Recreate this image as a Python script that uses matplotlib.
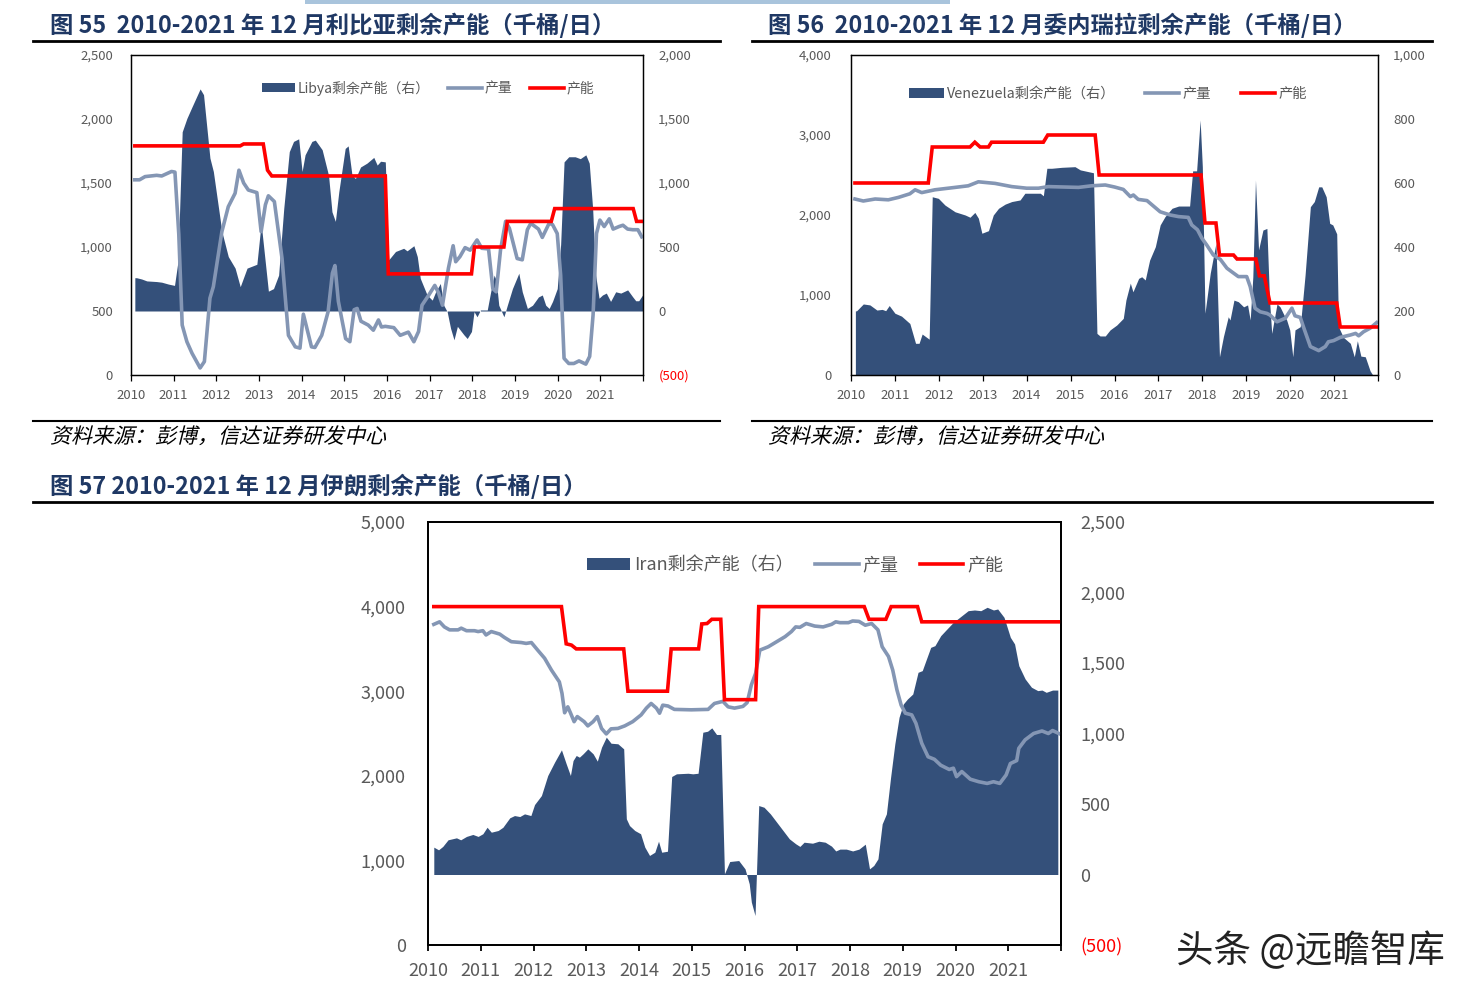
import matplotlib
matplotlib.use("Agg")
import matplotlib.pyplot as plt
from matplotlib.lines import Line2D
from matplotlib.patches import Patch, Rectangle, PathPatch
from matplotlib.textpath import TextPath
from matplotlib.font_manager import FontProperties
from matplotlib.transforms import Affine2D
from matplotlib.ticker import FuncFormatter

plt.rcParams['font.family'] = ['Noto Sans CJK SC', 'DejaVu Sans']

# ---------------- data (decimal year, value) ----------------
years = [2010, 2011, 2012, 2013, 2014, 2015, 2016, 2017, 2018, 2019, 2020, 2021]

# Libya
libya_cap_x = [2010.09, 2012.56, 2012.64, 2013.1, 2013.2, 2013.3, 2015.96, 2016.03, 2017.98, 2018.05,
               2018.74, 2018.82, 2019.85, 2019.93, 2021.77, 2021.85, 2021.99]
libya_cap = [1790, 1790, 1805, 1805, 1600, 1555, 1555, 790, 790, 1000,
             1000, 1200, 1200, 1300, 1300, 1200, 1200]
libya_prod_x = [2010.09, 2010.2, 2010.33, 2010.6, 2010.72, 2010.95, 2011.03, 2011.12, 2011.2, 2011.31,
                2011.43, 2011.62, 2011.72, 2011.85, 2011.93, 2012.13, 2012.28, 2012.44, 2012.53, 2012.64,
                2012.75, 2012.95, 2013.05, 2013.15, 2013.22, 2013.36, 2013.54, 2013.69, 2013.85, 2013.96,
                2014.04, 2014.23, 2014.31, 2014.47, 2014.62, 2014.72, 2014.78, 2014.86, 2015.03, 2015.13,
                2015.23, 2015.3, 2015.39, 2015.56, 2015.68, 2015.8, 2015.87, 2015.96, 2016.16, 2016.31,
                2016.5, 2016.63, 2016.74, 2016.82, 2016.98, 2017.12, 2017.21, 2017.3, 2017.44, 2017.55,
                2017.61, 2017.71, 2017.83, 2017.95, 2018.11, 2018.22, 2018.38, 2018.48, 2018.56, 2018.66,
                2018.78, 2018.87, 2019.05, 2019.17, 2019.29, 2019.37, 2019.55, 2019.64, 2019.8, 2019.88,
                2019.99, 2020.07, 2020.15, 2020.26, 2020.38, 2020.5, 2020.66, 2020.75, 2020.83, 2020.91,
                2020.99, 2021.09, 2021.21, 2021.3, 2021.44, 2021.53, 2021.64, 2021.76, 2021.88, 2021.97]
libya_prod = [1525, 1525, 1550, 1560, 1555, 1590, 1585, 1100, 390, 260,
              170, 55, 105, 600, 690, 1120, 1315, 1420, 1600, 1500,
              1445, 1425, 1120, 1330, 1400, 1355, 910, 310, 220, 210,
              475, 220, 215, 310, 495, 795, 855, 575, 285, 260,
              510, 520, 420, 390, 350, 430, 375, 380, 370, 310,
              335, 260, 340, 545, 625, 700, 640, 545, 835, 1010,
              885, 925, 995, 975, 1055, 990, 985, 675, 650, 975,
              1200, 1145, 910, 900, 1135, 1185, 1140, 1075, 1185, 1175,
              1105, 780, 130, 90, 90, 110, 85, 145, 470, 1105,
              1210, 1160, 1220, 1140, 1160, 1170, 1140, 1135, 1135, 1080]
libya_spare_x = [2010.09, 2010.13, 2010.25, 2010.37, 2010.6, 2010.72, 2010.88, 2011.02, 2011.1, 2011.2,
                 2011.31, 2011.43, 2011.62, 2011.7, 2011.85, 2011.93, 2012.13, 2012.28, 2012.44, 2012.56,
                 2012.72, 2012.95, 2013.05, 2013.22, 2013.34, 2013.46, 2013.58, 2013.71, 2013.81, 2013.93,
                 2014.01, 2014.08, 2014.24, 2014.32, 2014.48, 2014.63, 2014.71, 2014.79, 2014.87, 2015.02,
                 2015.09, 2015.18, 2015.26, 2015.38, 2015.53, 2015.69, 2015.77, 2015.85, 2015.96, 2016.04,
                 2016.2, 2016.39, 2016.47, 2016.63, 2016.71, 2016.78, 2016.94, 2017.06, 2017.14, 2017.25,
                 2017.33, 2017.41, 2017.49, 2017.57, 2017.65, 2017.8, 2017.88, 2017.98, 2018.04, 2018.11,
                 2018.19, 2018.35, 2018.43, 2018.51, 2018.56, 2018.62, 2018.74, 2018.82, 2018.94, 2019.09,
                 2019.17, 2019.29, 2019.41, 2019.55, 2019.64, 2019.72, 2019.8, 2019.88, 2019.99, 2020.07,
                 2020.15, 2020.26, 2020.41, 2020.53, 2020.66, 2020.74, 2020.82, 2020.89, 2020.97, 2021.05,
                 2021.14, 2021.24, 2021.36, 2021.48, 2021.64, 2021.76, 2021.83, 2021.9, 2021.99]
libya_spare = [260, 260, 250, 235, 230, 225, 210, 200, 385, 1400,
               1505, 1595, 1735, 1690, 1195, 1090, 620, 425, 335, 190,
               335, 365, 685, 155, 175, 280, 800, 1245, 1325, 1345,
               1090, 1220, 1325, 1335, 1260, 1060, 775, 700, 930, 1270,
               1290, 1060, 1035, 1125, 1155, 1200, 1140, 1170, 1165, 400,
               465, 490, 470, 510, 425, 255, 125, 85, 150, 215,
               45, -5, -135, -225, -120, -185, -215, -160, -5, -45,
               8, 8, 150, 280, 240, 45, -45, 45, 175, 295,
               150, 20, 45, 110, 125, 45, 20, 75, 175, 520,
               1165, 1205, 1205, 1190, 1220, 1155, 800, 280, 100, 125,
               140, 75, 150, 140, 165, 110, 80, 80, 125]

# Venezuela
ven_cap_x = [2010.09, 2011.76, 2011.85, 2012.71, 2012.82, 2012.94, 2013.13, 2013.2, 2014.38, 2014.48,
             2015.56, 2015.65, 2017.97, 2018.06, 2018.31, 2018.39, 2018.71, 2018.79, 2019.22, 2019.3,
             2019.41, 2019.54, 2021.06, 2021.14, 2021.99]
ven_cap = [2400, 2400, 2850, 2850, 2910, 2850, 2850, 2910, 2910, 3000,
           3000, 2500, 2500, 1900, 1900, 1500, 1500, 1450, 1450, 1240,
           1240, 900, 900, 600, 600]
ven_prod_x = [2010.09, 2010.28, 2010.55, 2010.85, 2011.08, 2011.34, 2011.46, 2011.61, 2011.91, 2012.37,
              2012.67, 2012.9, 2013.28, 2013.66, 2014.0, 2014.27, 2014.49, 2015.18, 2015.48, 2015.79,
              2016.0, 2016.2, 2016.36, 2016.43, 2016.54, 2016.74, 2017.04, 2017.27, 2017.46, 2017.68,
              2017.76, 2017.89, 2017.99, 2018.1, 2018.25, 2018.41, 2018.56, 2018.67, 2018.82, 2019.01,
              2019.09, 2019.2, 2019.32, 2019.47, 2019.54, 2019.7, 2019.89, 2020.04, 2020.11, 2020.23,
              2020.3, 2020.46, 2020.65, 2020.8, 2020.87, 2020.99, 2021.14, 2021.37, 2021.49, 2021.56,
              2021.67, 2021.82, 2021.97]
ven_prod = [2200, 2175, 2200, 2190, 2220, 2265, 2315, 2280, 2315, 2345,
            2365, 2415, 2395, 2355, 2335, 2335, 2355, 2345, 2365, 2375,
            2350, 2320, 2230, 2250, 2195, 2180, 2040, 2000, 1980, 1970,
            1875, 1815, 1710, 1625, 1500, 1445, 1335, 1290, 1230, 1230,
            1105, 835, 790, 770, 750, 665, 710, 835, 740, 720,
            605, 355, 305, 355, 415, 430, 470, 500, 520, 490,
            540, 585, 655]
ven_spare_x = [2010.1, 2010.13, 2010.28, 2010.43, 2010.59, 2010.71, 2010.79, 2010.87, 2011.0, 2011.15,
               2011.34, 2011.47, 2011.55, 2011.62, 2011.78, 2011.85, 2011.99, 2012.14, 2012.37, 2012.6,
               2012.71, 2012.82, 2012.9, 2012.98, 2013.13, 2013.24, 2013.36, 2013.51, 2013.66, 2013.85,
               2013.96, 2014.31, 2014.38, 2014.46, 2014.57, 2014.8, 2015.1, 2015.22, 2015.52, 2015.6,
               2015.67, 2015.79, 2015.9, 2016.05, 2016.2, 2016.26, 2016.36, 2016.42, 2016.55, 2016.62,
               2016.7, 2016.8, 2016.93, 2017.04, 2017.15, 2017.31, 2017.46, 2017.71, 2017.78, 2017.87,
               2017.95, 2018.0, 2018.06, 2018.18, 2018.31, 2018.39, 2018.48, 2018.59, 2018.63, 2018.72,
               2018.82, 2018.94, 2019.03, 2019.09, 2019.15, 2019.21, 2019.28, 2019.38, 2019.47, 2019.53,
               2019.58, 2019.7, 2019.77, 2019.84, 2019.92, 2019.99, 2020.06, 2020.11, 2020.23, 2020.34,
               2020.46, 2020.55, 2020.65, 2020.72, 2020.82, 2020.9, 2020.97, 2021.06, 2021.1, 2021.21,
               2021.37, 2021.46, 2021.53, 2021.61, 2021.71, 2021.82, 2021.88, 2021.97]
ven_spare = [200, 201, 222, 219, 203, 205, 201, 217, 193, 184,
             161, 99, 99, 128, 112, 557, 552, 531, 510, 500,
             493, 508, 490, 443, 451, 500, 521, 534, 542, 547,
             568, 568, 560, 646, 646, 649, 651, 641, 632, 130,
             122, 122, 141, 156, 177, 234, 287, 260, 302, 307,
             297, 359, 401, 469, 495, 521, 528, 528, 638, 638,
             797, 651, 193, 318, 412, 57, 120, 182, 172, 234,
             229, 213, 219, 172, 307, 609, 391, 453, 458, 234,
             130, 222, 213, 193, 172, 141, 57, 141, 151, 313,
             526, 542, 588, 588, 557, 474, 469, 441, 151, 118,
             99, 57, 107, 59, 57, 13, 0, 0]

# Iran
iran_cap_x = [2010.11, 2012.53, 2012.62, 2012.72, 2012.81, 2013.71, 2013.79, 2014.54, 2014.61, 2015.13,
              2015.19, 2015.29, 2015.38, 2015.55, 2015.62, 2016.21, 2016.27, 2018.27, 2018.36, 2018.68,
              2018.78, 2019.28, 2019.36, 2021.99]
iran_cap = [4000, 4000, 3560, 3545, 3500, 3500, 3000, 3000, 3500, 3500,
            3795, 3800, 3850, 3850, 2900, 2900, 4000, 4000, 3850, 3850,
            4000, 4000, 3820, 3820]
iran_prod_x = [2010.11, 2010.22, 2010.31, 2010.41, 2010.57, 2010.63, 2010.73, 2010.88, 2010.95, 2011.04,
               2011.1, 2011.2, 2011.36, 2011.45, 2011.58, 2011.77, 2011.86, 2011.96, 2012.08, 2012.21,
               2012.34, 2012.49, 2012.54, 2012.59, 2012.65, 2012.7, 2012.77, 2012.83, 2012.96, 2013.03,
               2013.13, 2013.21, 2013.29, 2013.38, 2013.47, 2013.6, 2013.73, 2013.88, 2014.04, 2014.14,
               2014.23, 2014.33, 2014.39, 2014.45, 2014.55, 2014.67, 2014.99, 2015.31, 2015.43, 2015.59,
               2015.69, 2015.81, 2015.97, 2016.05, 2016.13, 2016.21, 2016.29, 2016.45, 2016.61, 2016.77,
               2016.89, 2016.97, 2017.05, 2017.17, 2017.33, 2017.49, 2017.65, 2017.73, 2017.81, 2017.97,
               2018.05, 2018.17, 2018.29, 2018.41, 2018.53, 2018.61, 2018.73, 2018.81, 2018.89, 2018.97,
               2019.05, 2019.17, 2019.25, 2019.36, 2019.48, 2019.6, 2019.72, 2019.88, 2019.96, 2020.02,
               2020.12, 2020.28, 2020.44, 2020.6, 2020.72, 2020.84, 2020.96, 2021.04, 2021.16, 2021.2,
               2021.32, 2021.48, 2021.64, 2021.76, 2021.84, 2021.96]
iran_prod = [3790, 3820, 3760, 3725, 3725, 3745, 3715, 3715, 3705, 3715,
             3665, 3705, 3675, 3635, 3585, 3575, 3565, 3575, 3485, 3390,
             3250, 3110, 2975, 2745, 2815, 2745, 2640, 2700, 2640, 2590,
             2640, 2700, 2560, 2495, 2555, 2560, 2590, 2640, 2720, 2800,
             2855, 2800, 2740, 2835, 2825, 2785, 2780, 2785, 2855, 2880,
             2815, 2800, 2820, 2865, 3075, 3210, 3485, 3525, 3585, 3645,
             3705, 3760, 3755, 3800, 3770, 3760, 3790, 3820, 3810, 3810,
             3830, 3825, 3780, 3800, 3725, 3525, 3410, 3250, 3015, 2835,
             2740, 2720, 2620, 2385, 2225, 2195, 2125, 2075, 2090, 1990,
             2050, 1960, 1930, 1910, 1930, 1910, 2010, 2145, 2180, 2325,
             2425, 2500, 2530, 2500, 2535, 2500]
iran_spare_x = [2010.11, 2010.2, 2010.28, 2010.38, 2010.54, 2010.62, 2010.73, 2010.85, 2010.95, 2011.04,
                2011.12, 2011.2, 2011.33, 2011.42, 2011.55, 2011.64, 2011.74, 2011.83, 2011.95, 2012.02,
                2012.15, 2012.27, 2012.4, 2012.53, 2012.62, 2012.7, 2012.75, 2012.81, 2012.87, 2012.94,
                2013.03, 2013.13, 2013.21, 2013.29, 2013.38, 2013.47, 2013.6, 2013.71, 2013.76, 2013.82,
                2013.92, 2014.03, 2014.11, 2014.2, 2014.3, 2014.37, 2014.43, 2014.54, 2014.62, 2014.71,
                2014.93, 2015.02, 2015.12, 2015.21, 2015.3, 2015.38, 2015.47, 2015.55, 2015.62, 2015.72,
                2015.89, 2016.01, 2016.09, 2016.13, 2016.2, 2016.27, 2016.37, 2016.49, 2016.61, 2016.73,
                2016.85, 2016.97, 2017.05, 2017.13, 2017.29, 2017.41, 2017.53, 2017.65, 2017.73, 2017.81,
                2017.93, 2018.05, 2018.17, 2018.29, 2018.37, 2018.45, 2018.53, 2018.61, 2018.69, 2018.77,
                2018.85, 2018.93, 2019.01, 2019.09, 2019.19, 2019.29, 2019.37, 2019.45, 2019.53, 2019.61,
                2019.72, 2019.84, 2019.96, 2020.08, 2020.24, 2020.36, 2020.48, 2020.6, 2020.72, 2020.8,
                2020.92, 2021.04, 2021.12, 2021.2, 2021.32, 2021.44, 2021.56, 2021.64, 2021.72, 2021.84,
                2021.94]
iran_spare = [194, 175, 199, 246, 260, 246, 270, 284, 270, 289,
              335, 300, 312, 335, 402, 418, 411, 430, 418, 496,
              560, 702, 797, 884, 785, 702, 808, 844, 832, 856,
              891, 856, 804, 903, 974, 931, 927, 891, 395, 347,
              312, 289, 194, 135, 158, 236, 158, 165, 695, 714,
              718, 714, 718, 1009, 1016, 1040, 993, 993, 5, 92,
              99, 40, -66, -196, -291, 489, 477, 430, 371, 312,
              253, 218, 199, 229, 222, 236, 229, 201, 167, 180,
              180, 167, 180, 215, 40, 64, 111, 359, 430, 690,
              926, 1115, 1209, 1245, 1280, 1434, 1446, 1529, 1611, 1623,
              1694, 1742, 1789, 1824, 1871, 1876, 1871, 1895, 1876, 1883,
              1824, 1682, 1635, 1481, 1387, 1328, 1304, 1308, 1292, 1308,
              1308]

# ---------------- styling ----------------
NAVY = '#34507A'
GRAY = '#8496B4'
RED = '#FF0000'
TXT = '#595959'
TITLE = '#1F3864'

W, H = 1473, 1000
fig = plt.figure(figsize=(W / 100, H / 100), dpi=100)


def fx(px):
    return px / W


def fy(py):
    return 1 - py / H


def thousands(v, pos=None):
    if v < 0:
        return '({:,.0f})'.format(-v)
    return '{:,.0f}'.format(v)


def draw_panel(rect, cap_x, cap, prod_x, prod, spare_x, spare, left_lim, left_step,
               right_lim, right_step, name, fs, lw_spine, lpad, rpad, xpad, leg_xy, leg_fs, colsp):
    ax = fig.add_axes(rect)
    ax2 = ax.twinx()
    # area on the right axis, lines on the left axis drawn on top
    ax2.fill_between(spare_x, spare, 0, color=NAVY, linewidth=0)
    ax.plot(prod_x, prod, color=GRAY, linewidth=2.6, solid_joinstyle='round')
    ax.plot(cap_x, cap, color=RED, linewidth=2.6, solid_joinstyle='miter')
    ax.set_zorder(ax2.get_zorder() + 1)
    ax.patch.set_visible(False)

    ax.set_xlim(2010, 2022)
    ax.set_ylim(*left_lim)
    ax2.set_ylim(*right_lim)
    ax.set_yticks(range(left_lim[0], left_lim[1] + 1, left_step))
    ax2.set_yticks(range(right_lim[0], right_lim[1] + 1, right_step))
    ax.yaxis.set_major_formatter(FuncFormatter(thousands))
    ax2.yaxis.set_major_formatter(FuncFormatter(thousands))
    ax.set_xticks(list(years) + [2022])
    ax.set_xticklabels([str(y) for y in years] + [''])

    ax.tick_params(axis='y', length=0, pad=lpad, labelsize=fs, labelcolor=TXT)
    ax2.tick_params(axis='y', length=0, pad=rpad, labelsize=fs, labelcolor=TXT)
    ax.tick_params(axis='x', direction='out', length=4, width=lw_spine, pad=xpad,
                   labelsize=fs, labelcolor=TXT)
    for lab in ax2.get_yticklabels():
        if lab.get_text().startswith('('):
            lab.set_color(RED)
    for a in (ax, ax2):
        for s in a.spines.values():
            s.set_color('#000000')
            s.set_linewidth(lw_spine)

    handles = [Patch(facecolor=NAVY, edgecolor='none'),
               Line2D([0], [0], color=GRAY, linewidth=2.6),
               Line2D([0], [0], color=RED, linewidth=2.6)]
    labels = [name + '剩余产能（右）', '产量', '产能']
    leg = ax.legend(handles, labels, loc='center', bbox_to_anchor=leg_xy,
                    bbox_transform=fig.transFigure, ncol=3, frameon=False,
                    fontsize=leg_fs, handlelength=2.4, handletextpad=0.2,
                    columnspacing=colsp, handleheight=0.65)
    for t in leg.get_texts():
        t.set_color(TXT)
    return ax, ax2


# Libya
draw_panel([fx(131), fy(375), fx(643) - fx(131), fy(55) - fy(375)],
           libya_cap_x, libya_cap, libya_prod_x, libya_prod, libya_spare_x, libya_spare,
           (0, 2500), 500, (-500, 2000), 500, 'Libya', 9.5, 0.9, 13, 11, 6,
           (fx(428), fy(88)), 10, 1.3)

# Venezuela
draw_panel([fx(851), fy(375), fx(1378) - fx(851), fy(55) - fy(375)],
           ven_cap_x, ven_cap, ven_prod_x, ven_prod, ven_spare_x, ven_spare,
           (0, 4000), 1000, (0, 1000), 200, 'Venezuela', 9.5, 0.9, 14, 11, 6,
           (fx(1108), fy(94)), 10.3, 2.1)

# Iran
draw_panel([fx(428), fy(945), fx(1061) - fx(428), fy(522) - fy(945)],
           iran_cap_x, iran_cap, iran_prod_x, iran_prod, iran_spare_x, iran_spare,
           (0, 5000), 1000, (-500, 2500), 500, 'Iran', 13, 1.3, 16, 14, 8,
           (fx(795), fy(565)), 13, 1.2)

# ---------------- titles, rules, notes ----------------
title_kw = dict(fontsize=16.8, fontweight='bold', color=TITLE, va='center', ha='left')
fig.text(fx(50), fy(25), '图 55  2010-2021 年 12 月利比亚剩余产能（千桶/日）', **title_kw)
fig.text(fx(768), fy(25), '图 56  2010-2021 年 12 月委内瑞拉剩余产能（千桶/日）', **title_kw)
fig.text(fx(50), fy(486), '图 57 2010-2021 年 12 月伊朗剩余产能（千桶/日）', **title_kw)

for (x0, x1, y, lw) in [(33, 720, 41, 2.0), (752, 1432, 41, 2.0),
                        (33, 720, 421, 1.5), (752, 1432, 421, 1.5),
                        (33, 1432, 502, 2.0)]:
    fig.add_artist(Line2D([fx(x0), fx(x1)], [fy(y), fy(y)], color='black',
                          linewidth=lw, transform=fig.transFigure))

# light blue strip left over from the previous page
fig.add_artist(Rectangle((fx(305), fy(4)), fx(950) - fx(305), fy(0) - fy(4),
                         facecolor='#A9C4DC', edgecolor='none', transform=fig.transFigure))

# italic source notes (CJK font has no italic, so shear the glyph outlines)
src = '资料来源：彭博，信达证券研发中心'
fp = FontProperties(family='Noto Sans CJK SC')
for x0 in (50, 768):
    tp = TextPath((0, 0), src, size=21, prop=fp)
    tr = Affine2D().skew_deg(14, 0).translate(x0, H - 443)
    fig.add_artist(PathPatch(tp, transform=tr, facecolor='black', edgecolor='none'))

# watermark
fig.text(fx(1310), fy(952), '头条 @远瞻智库', fontsize=27, color='#222222',
         ha='center', va='center')

fig.savefig('out.png', dpi=100)
